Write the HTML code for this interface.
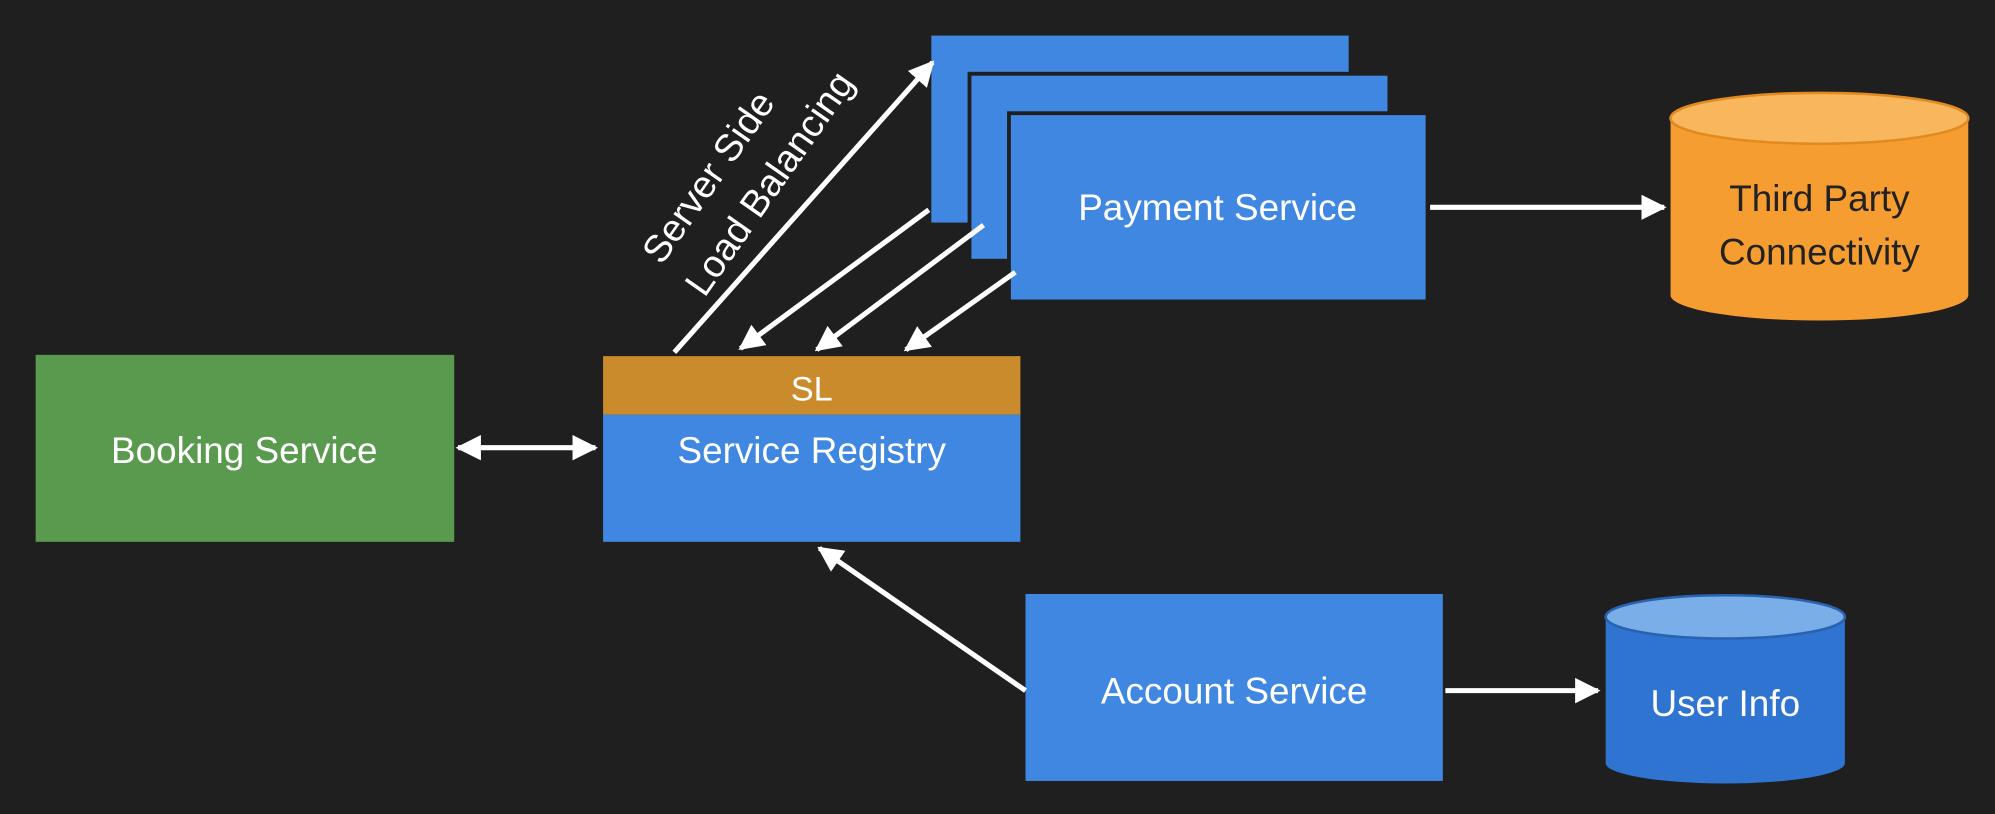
<!DOCTYPE html>
<html><head><meta charset="utf-8"><style>
html,body{margin:0;padding:0;background:#1f1f1f;}
svg{display:block}
text{font-family:"Liberation Sans",sans-serif;fill:#fff;}
</style></head><body>
<svg width="1995" height="814" viewBox="0 0 1568 640" preserveAspectRatio="none" xmlns="http://www.w3.org/2000/svg">
<defs>
<marker id="a" viewBox="0 0 10 10" refX="9" refY="5" markerWidth="5" markerHeight="5" orient="auto-start-reverse"><path d="M0,0 L10,5 L0,10 z" fill="#fff"/></marker>
</defs>
<rect width="1568" height="640" fill="#1f1f1f"/>
<rect x="28" y="279" width="329" height="147" fill="#5a9a4f"/>
<text x="192" y="364" font-size="29" text-anchor="middle">Booking Service</text>
<rect x="474" y="326" width="328" height="100" fill="#3f87e0"/>
<rect x="474" y="280" width="328" height="46" fill="#c98b2b"/>
<text x="638" y="315" font-size="27" text-anchor="middle">SL</text>
<text x="638" y="364" font-size="29" text-anchor="middle">Service Registry</text>
<rect x="732" y="28" width="328" height="147" fill="#3f87e0"/>
<rect x="762" y="58" width="330" height="147" fill="#3f87e0" stroke="#1f1f1f" stroke-width="3"/>
<rect x="793" y="89" width="329" height="148" fill="#3f87e0" stroke="#1f1f1f" stroke-width="3"/>
<text x="957" y="173" font-size="29" text-anchor="middle">Payment Service</text>
<path d="M1313,93 L1313,232 A117,20 0 0 0 1547,232 L1547,93 Z" fill="#f59d30"/>
<ellipse cx="1430" cy="93" rx="117" ry="20" fill="#f8b75c" stroke="#e08a20" stroke-width="2"/>
<text x="1430" y="166" font-size="29" text-anchor="middle" style="fill:#222">Third Party</text>
<text x="1430" y="208" font-size="29" text-anchor="middle" style="fill:#222">Connectivity</text>
<rect x="806" y="467" width="328" height="147" fill="#3f87e0"/>
<text x="970" y="553" font-size="29" text-anchor="middle">Account Service</text>
<path d="M1262,485 L1262,600 A94,16 0 0 0 1450,600 L1450,485 Z" fill="#2f74d0"/>
<ellipse cx="1356" cy="485" rx="94" ry="17" fill="#7aaee8" stroke="#2a62b0" stroke-width="2"/>
<text x="1356" y="563" font-size="29" text-anchor="middle">User Info</text>
<g stroke="#fff" stroke-width="4" fill="none">
<line x1="360" y1="352" x2="468" y2="352" marker-start="url(#a)" marker-end="url(#a)"/>
<line x1="1124" y1="163" x2="1308" y2="163" marker-end="url(#a)"/>
<line x1="1136" y1="543" x2="1256" y2="543" marker-end="url(#a)"/>
<line x1="806" y1="543" x2="644" y2="431" marker-end="url(#a)"/>
<line x1="530" y1="277" x2="733" y2="49" marker-end="url(#a)"/>
<line x1="730" y1="165" x2="582" y2="274" marker-end="url(#a)"/>
<line x1="773" y1="177" x2="642" y2="275" marker-end="url(#a)"/>
<line x1="798" y1="214" x2="712" y2="275" marker-end="url(#a)"/>
</g>
<text font-size="30" text-anchor="middle" transform="translate(565,145) rotate(-55)">Server Side</text>
<text font-size="30" text-anchor="middle" transform="translate(613,150) rotate(-55)">Load Balancing</text>
</svg>
</body></html>
